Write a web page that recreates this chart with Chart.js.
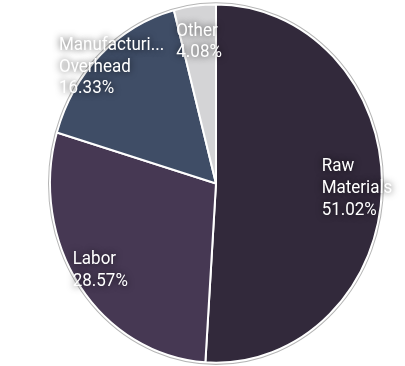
<!DOCTYPE html>
<html lang="en">
<head>
<meta charset="UTF-8">
<title>Cost Breakdown</title>
<script src="https://cdn.jsdelivr.net/npm/chart.js@4.4.1/dist/chart.umd.min.js"></script>
<style>
  body {
    margin: 0;
    padding: 0;
    background: #ffffff;
    overflow: hidden;
  }
</style>
</head>
<body>
<canvas id="pieChart" width="405" height="366"></canvas>
<script>
// data (25/49, 14/49, 8/49, 2/49)
const categories = ['Raw Materials', 'Labor', 'Manufacturing Overhead', 'Other'];
const values = [25, 14, 8, 2];
const sliceColors = ['#32293b', '#463853', '#3f4d66', '#d4d4d6'];

const stretchY = 1.0796; // reference pie is taller than wide

// split a category into lines, long words get cut off
function labelLines(text) {
  return text.split(' ').map(w => w.length > 11 ? w.slice(0, 11) + '...' : w);
}

const stretch = {
  id: 'stretch',
  beforeDraw(chart) {
    chart.ctx.save();
    chart.ctx.scale(1, stretchY);
  },
  afterDraw(chart) {
    chart.ctx.restore();
  }
};

function overlaps(a, b, pad) {
  return a.x0 - pad < b.x1 && b.x0 - pad < a.x1 && a.y0 - pad < b.y1 && b.y0 - pad < a.y1;
}

const sliceLabels = {
  id: 'sliceLabels',
  afterDatasetsDraw(chart) {
    const ctx = chart.ctx;
    const meta = chart.getDatasetMeta(0);
    const total = values.reduce((a, b) => a + b, 0);

    // thin grey rim round the pie
    const first = meta.data[0];
    ctx.save();
    ctx.beginPath();
    ctx.arc(first.x, first.y, first.outerRadius + 1.5, 0, Math.PI * 2);
    ctx.strokeStyle = 'rgba(150,150,150,0.7)';
    ctx.lineWidth = 1;
    ctx.stroke();
    ctx.restore();

    ctx.save();
    ctx.font = '17px Roboto, "Liberation Sans", sans-serif';
    ctx.textAlign = 'left';
    ctx.textBaseline = 'middle';
    ctx.fillStyle = '#ffffff';
    ctx.shadowColor = 'rgba(0,0,0,0.75)';
    ctx.shadowBlur = 7;
    const lineH = 20;

    // label boxes centred at 0.85 of the radius
    const boxes = meta.data.map((arc, i) => {
      const p = arc.getProps(['x', 'y', 'startAngle', 'endAngle', 'outerRadius'], true);
      const mid = (p.startAngle + p.endAngle) / 2;
      const lines = labelLines(categories[i]);
      lines.push((values[i] / total * 100).toFixed(2) + '%');
      const w = Math.max(...lines.map(l => ctx.measureText(l).width));
      const h = lines.length * lineH;
      const b = { lines, w, h, dx: Math.cos(mid), dy: Math.sin(mid), r: p.outerRadius * 0.85, ox: p.x, oy: p.y };
      b.place = function () {
        const cx = this.ox + this.dx * this.r, cy = this.oy + this.dy * this.r;
        this.x0 = cx - w / 2; this.x1 = cx + w / 2;
        this.y0 = cy - h / 2; this.y1 = cy + h / 2;
      };
      b.place();
      return b;
    });

    // push clashing labels apart: bigger slice out, smaller slice in
    for (let i = 0; i < boxes.length; i++) {
      for (let j = i + 1; j < boxes.length; j++) {
        let n = 0;
        while (overlaps(boxes[i], boxes[j], 12) && n < 60) {
          boxes[i].r += 1; boxes[i].place();
          boxes[j].r -= 1; boxes[j].place();
          n++;
        }
      }
    }

    boxes.forEach(b => {
      b.lines.forEach((l, k) => ctx.fillText(l, b.x0, b.y0 + lineH / 2 + k * lineH));
    });
    ctx.restore();
  }
};

new Chart(document.getElementById('pieChart'), {
  type: 'pie',
  data: {
    labels: categories,
    datasets: [{
      data: values,
      backgroundColor: sliceColors,
      borderColor: '#ffffff',
      borderWidth: 2,
      hoverOffset: 0
    }]
  },
  options: {
    responsive: false,
    animation: false,
    layout: { padding: { left: 49, right: 22, top: 3, bottom: 29 } },
    plugins: {
      legend: { display: false },
      tooltip: { enabled: false }
    }
  },
  plugins: [stretch, sliceLabels]
});
</script>
</body>
</html>
